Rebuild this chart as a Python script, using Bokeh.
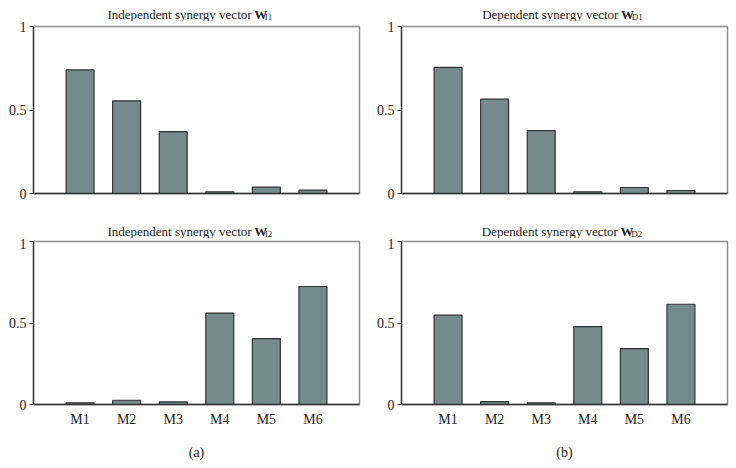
from bokeh.plotting import figure
from bokeh.layouts import gridplot
from bokeh.models import Range1d, FixedTicker, ColumnDataSource
from bokeh.core.properties import value
from bokeh.embed import file_html
from bokeh.resources import INLINE

categories = ["M1", "M2", "M3", "M4", "M5", "M6"]
w_i1 = [0.74, 0.555, 0.37, 0.01, 0.038, 0.02]
w_d1 = [0.755, 0.565, 0.377, 0.01, 0.036, 0.018]
w_i2 = [0.01, 0.026, 0.016, 0.561, 0.404, 0.724]
w_d2 = [0.548, 0.018, 0.01, 0.478, 0.343, 0.615]
y_ticks = [0, 0.5, 1]
y_tick_labels = {0: "0", 0.5: "0.5", 1: "1"}
title_main = ["Independent synergy vector", "Dependent synergy vector",
              "Independent synergy vector", "Dependent synergy vector"]
title_sym = "W"
title_sub = ["I1", "D1", "I2", "D2"]
panel_tags = ["(a)", "(b)"]

FONT = "Liberation Serif"
BAR = "#758a8a"
TXT = "#222222"


def panel(values, width, height, bl, br, bt, bb, bottom_row, xlabel=None):
    p = figure(width=width, height=height, output_backend="svg",
               toolbar_location=None, title_location=None,
               x_range=Range1d(0, len(categories) + 1),
               y_range=Range1d(0, 1),
               min_border_left=bl, min_border_right=br,
               min_border_top=bt, min_border_bottom=bb)
    xs = [i + 1 for i in range(len(categories))]
    src = ColumnDataSource(dict(x=xs, top=values, cat=categories))
    p.vbar(x="x", top="top", bottom=0, width=0.6, source=src,
           fill_color=BAR, line_color="#2e3232", line_width=1.2)
    p.xgrid.visible = False
    p.ygrid.visible = False
    p.outline_line_color = "#8c8c8c"
    p.outline_line_width = 1.5

    ya = p.yaxis[0]
    ya.ticker = FixedTicker(ticks=y_ticks)
    ya.major_label_overrides = y_tick_labels
    ya.minor_tick_line_color = None
    ya.major_tick_in = 0
    ya.major_tick_out = 4
    ya.major_label_standoff = 3
    ya.axis_line_color = "#333333"
    ya.axis_line_width = 1.3
    ya.major_tick_line_color = "#333333"
    ya.major_label_text_font = FONT
    ya.major_label_text_font_size = "14px"
    ya.major_label_text_color = TXT

    xa = p.xaxis[0]
    xa.minor_tick_line_color = None
    xa.major_tick_in = 0
    xa.major_tick_out = 0
    xa.axis_line_color = "#333333"
    xa.axis_line_width = 1.3
    if bottom_row:
        xa.ticker = FixedTicker(ticks=xs)
        xa.major_label_overrides = {x: c for x, c in zip(xs, categories)}
        xa.major_label_text_font = FONT
        xa.major_label_text_font_size = "14px"
        xa.major_label_text_color = TXT
        xa.major_label_standoff = 7
    else:
        xa.ticker = FixedTicker(ticks=[])
    if xlabel:
        xa.axis_label = xlabel
        xa.axis_label_text_font = FONT
        xa.axis_label_text_font_size = "14px"
        xa.axis_label_text_font_style = "normal"
        xa.axis_label_text_color = TXT
        xa.axis_label_standoff = 15
    return p


def title_fig(main, sub, width, height, x_w, base_main, base_sub):
    t = figure(width=width, height=height, output_backend="svg",
               toolbar_location=None, title_location=None,
               x_range=Range1d(0, width), y_range=Range1d(0, height),
               min_border=0, min_border_left=0, min_border_right=0,
               min_border_top=0, min_border_bottom=0)
    t.axis.visible = False
    t.grid.visible = False
    t.outline_line_color = None
    t.text(x=[x_w - 3], y=[base_main], text=[main], text_align="right",
           text_baseline="alphabetic", text_font=value(FONT),
           text_font_size="13px", text_color=TXT)
    t.text(x=[x_w], y=[base_main], text=[title_sym], text_align="left",
           text_baseline="alphabetic", text_font=value(FONT),
           text_font_style="bold", text_font_size="13px", text_color=TXT)
    t.text(x=[x_w + 12], y=[base_sub], text=[sub], text_align="left",
           text_baseline="alphabetic", text_font=value(FONT),
           text_font_size="9px", text_color=TXT)
    return t


t1 = title_fig(title_main[0], title_sub[0], 370, 21, 250.5, 7.4, 4.8)
t2 = title_fig(title_main[1], title_sub[1], 366, 21, 246.5, 7.4, 4.8)
p1 = panel(w_i1, 370, 200, 32, 11, 5, 27, False)
p2 = panel(w_d1, 366, 200, 31, 9, 5, 28, False)
t3 = title_fig(title_main[2], title_sub[2], 370, 17, 250.5, 6.6, 4.6)
t4 = title_fig(title_main[3], title_sub[3], 366, 17, 246, 6.6, 4.6)
p3 = panel(w_i2, 370, 230, 33, 9, 3, 63, True, panel_tags[0])
p4 = panel(w_d2, 366, 230, 30, 9, 2, 64, True, panel_tags[1])

grid = gridplot([[t1, t2], [p1, p2], [t3, t4], [p3, p4]], toolbar_location=None)
open("out.html", "w").write(file_html(grid, INLINE))
